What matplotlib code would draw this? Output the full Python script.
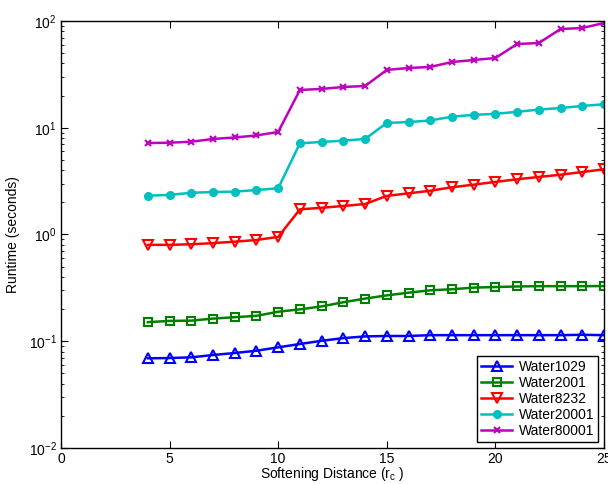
import numpy as np
import matplotlib

matplotlib.use("Agg")
import matplotlib.pyplot as plt

plt.rcParams["font.family"] = ["Liberation Sans", "DejaVu Sans"]
plt.rcParams["mathtext.fontset"] = "custom"
plt.rcParams["mathtext.rm"] = "Liberation Sans"
plt.rcParams["mathtext.it"] = "Liberation Sans"

# softening distance r_c
rc = list(range(4, 26))

water1029 = [0.0692, 0.0696, 0.0707, 0.0743, 0.0776, 0.0815, 0.0877, 0.0942,
             0.101, 0.107, 0.111, 0.112, 0.112, 0.114, 0.114, 0.114, 0.114,
             0.114, 0.114, 0.114, 0.115, 0.114]
water2001 = [0.151, 0.155, 0.156, 0.163, 0.168, 0.173, 0.189, 0.199, 0.212,
             0.232, 0.251, 0.269, 0.285, 0.300, 0.307, 0.318, 0.322, 0.326,
             0.328, 0.328, 0.328, 0.329]
water8232 = [0.80, 0.80, 0.81, 0.83, 0.857, 0.888, 0.95, 1.72, 1.78, 1.85,
             1.93, 2.30, 2.43, 2.57, 2.77, 2.93, 3.11, 3.29, 3.46, 3.63, 3.85,
             4.08]
water20001 = [2.31, 2.35, 2.46, 2.50, 2.52, 2.61, 2.71, 7.15, 7.36, 7.57, 7.85,
              11.1, 11.3, 11.7, 12.7, 13.2, 13.5, 14.1, 14.8, 15.3, 16.0, 16.6]
water80001 = [7.19, 7.24, 7.40, 7.85, 8.11, 8.47, 9.13, 22.6, 23.1, 24.1, 24.6,
              34.8, 36.3, 37.1, 41.3, 43.1, 45.0, 60.9, 62.2, 84.1, 86.0, 95.8]

series = [
    ("Water1029", water1029, (0, 0, 1), "^", "none", 7),
    ("Water2001", water2001, (0, 0.5, 0), "s", "none", 5.5),
    ("Water8232", water8232, (1, 0, 0), "v", "none", 7),
    ("Water20001", water20001, (0, 0.75, 0.75), "o", None, 5),
    ("Water80001", water80001, (0.75, 0, 0.75), "x", None, 5),
]

fig = plt.figure(figsize=(6.08, 4.84), dpi=100)
ax = fig.add_axes([0.1003, 0.0744, 0.8931, 0.8822])

for name, vals, color, marker, face, ms in series:
    kw = dict(markerfacecolor=face) if face else {}
    ax.plot(rc, vals, "-", color=color, lw=1.8, marker=marker, ms=ms,
            mew=1.5, label=name, **kw)

ax.set_yscale("log")
ax.set_xlim(0, 25)
ax.set_ylim(1e-2, 1e2)
ax.set_xticks([0, 5, 10, 15, 20, 25])
ax.tick_params(which="both", direction="in", top=True, right=True,
               labelsize=10, pad=3)
ax.tick_params(which="major", length=5)
ax.tick_params(which="minor", length=2.5)
for s in ax.spines.values():
    s.set_linewidth(1)

ax.set_xlabel(r"Softening Distance (r$_\mathrm{c}$ )", fontsize=10, labelpad=-1)
ax.set_ylabel("Runtime (seconds)", fontsize=10, labelpad=6)

leg = ax.legend(loc="lower right", fontsize=10, fancybox=False,
                edgecolor="black", framealpha=1, borderpad=0.3,
                labelspacing=0.15, handlelength=2.2, handletextpad=0.5,
                borderaxespad=0.4)
leg.get_frame().set_linewidth(1)

fig.savefig("out.png", dpi=100)
